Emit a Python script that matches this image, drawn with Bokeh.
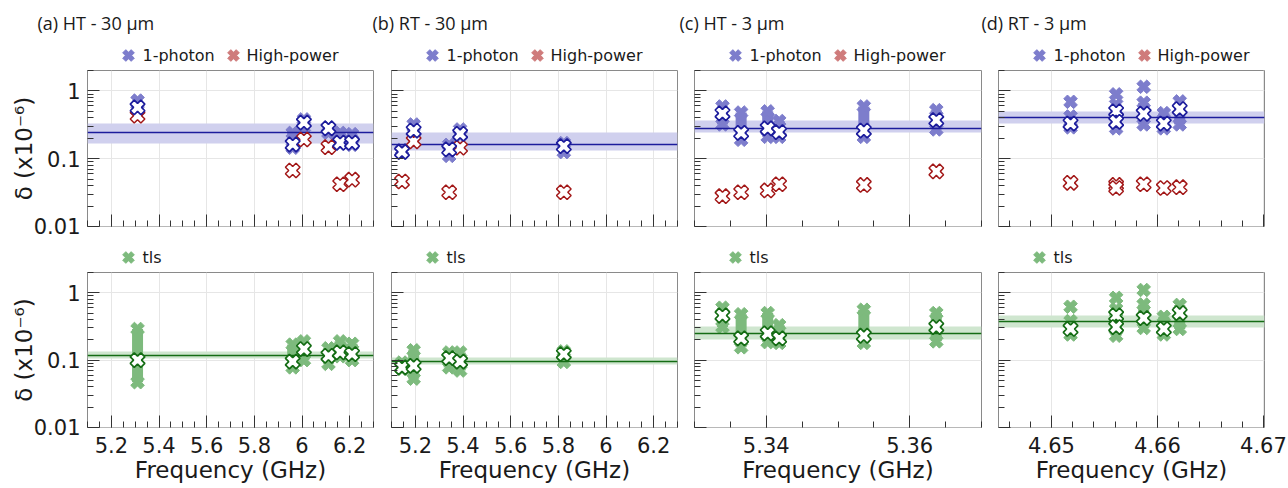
import numpy as np
from bokeh.plotting import figure
from bokeh.models import Range1d, FixedTicker, CustomJSTickFormatter, CustomLabelingPolicy
from bokeh.core.properties import value
from bokeh.layouts import column, row
from bokeh.embed import file_html
from bokeh.resources import INLINE

# ---------------- data ----------------
titles = ["(a) HT - 30 µm", "(b) RT - 30 µm", "(c) HT - 3 µm", "(d) RT - 3 µm"]
legend_top = ["1-photon", "High-power"]
legend_bottom = ["tls"]
y_ticks = [0.01, 0.1, 1]
x_ticks_a = [5.2, 5.4, 5.6, 5.8, 6.0, 6.2]
x_ticks_b = [5.2, 5.4, 5.6, 5.8, 6.0, 6.2]
x_ticks_c = [5.34, 5.36]
x_ticks_d = [4.65, 4.66, 4.67]

# (a) HT - 30 um
a_freq = [5.31, 5.961, 6.008, 6.111, 6.160, 6.210]
a_1ph_med = [0.57, 0.162, 0.34, 0.28, 0.172, 0.172]
a_1ph_lo = [0.52, 0.145, 0.29, 0.24, 0.165, 0.16]
a_1ph_hi = [0.72, 0.24, 0.38, 0.29, 0.24, 0.23]
a_hp = [0.43, 0.067, 0.192, 0.148, 0.042, 0.049]
a_1ph_mean = 0.24
a_1ph_band = [0.17, 0.33]
a_tls_med = [0.10, 0.095, 0.146, 0.116, 0.13, 0.123]
a_tls_lo = [0.047, 0.078, 0.10, 0.088, 0.114, 0.10]
a_tls_hi = [0.29, 0.17, 0.19, 0.15, 0.19, 0.175]
a_tls_mean = 0.118
a_tls_band = [0.107, 0.133]

# (b) RT - 30 um
b_freq = [5.144, 5.193, 5.342, 5.388, 5.823]
b_1ph_med = [0.126, 0.26, 0.137, 0.233, 0.153]
b_1ph_lo = [0.122, 0.24, 0.11, 0.22, 0.125]
b_1ph_hi = [0.135, 0.32, 0.16, 0.27, 0.17]
b_hp = [0.046, 0.18, 0.032, 0.145, 0.032]
b_1ph_mean = 0.162
b_1ph_band = [0.13, 0.24]
b_tls_med = [0.078, 0.082, 0.107, 0.095, 0.123]
b_tls_lo = [0.074, 0.053, 0.078, 0.07, 0.094]
b_tls_hi = [0.092, 0.14, 0.13, 0.13, 0.135]
b_tls_mean = 0.095
b_tls_band = [0.085, 0.11]

# (c) HT - 3 um
c_freq = [5.3339, 5.3365, 5.3402, 5.3418, 5.3536, 5.3637]
c_1ph_med = [0.467, 0.24, 0.28, 0.247, 0.26, 0.37]
c_1ph_lo = [0.32, 0.19, 0.21, 0.21, 0.21, 0.27]
c_1ph_hi = [0.59, 0.48, 0.50, 0.36, 0.59, 0.52]
c_hp = [0.028, 0.032, 0.034, 0.042, 0.041, 0.065]
c_1ph_mean = 0.28
c_1ph_band = [0.24, 0.36]
c_tls_med = [0.46, 0.21, 0.25, 0.21, 0.23, 0.31]
c_tls_lo = [0.31, 0.155, 0.185, 0.18, 0.18, 0.19]
c_tls_hi = [0.60, 0.48, 0.50, 0.33, 0.56, 0.50]
c_tls_mean = 0.25
c_tls_band = [0.20, 0.32]

# (d) RT - 3 um
d_freq = [4.6518, 4.6561, 4.6561, 4.6587, 4.6606, 4.6621]
d_1ph_med = [0.33, 0.50, 0.35, 0.46, 0.33, 0.54]
d_1ph_lo = [0.29, 0.36, 0.28, 0.32, 0.28, 0.32]
d_1ph_hi = [0.42, 0.63, 0.42, 0.67, 0.47, 0.70]
d_hp = [0.044, 0.041, 0.037, 0.042, 0.037, 0.038]
d_1ph_out_freq = [4.6518, 4.6561, 4.6587]
d_1ph_out = [0.69, 0.89, 1.15]
d_1ph_mean = 0.40
d_1ph_band = [0.33, 0.49]
d_tls_med = [0.29, 0.46, 0.31, 0.42, 0.29, 0.50]
d_tls_lo = [0.24, 0.32, 0.23, 0.30, 0.24, 0.29]
d_tls_hi = [0.38, 0.57, 0.42, 0.67, 0.44, 0.66]
d_tls_out_freq = [4.6518, 4.6561, 4.6587]
d_tls_out = [0.62, 0.84, 1.10]
d_tls_mean = 0.37
d_tls_band = [0.30, 0.46]

# ---------------- style ----------------
BLUE_L, BLUE_D, BLUE_BAND = "#7d7dcc", "#1c1c9c", "#d0d0ee"
RED_L, RED_D = "#cf7b7b", "#a31818"
GREEN_L, GREEN_D, GREEN_BAND = "#7dba7d", "#146c14", "#cfe6cf"
GRID = "#e6e6e6"
TICK = "#333333"
TXT = "#1a1a1a"
FONT = "DejaVu Sans"
TFONT = "Open Sans"
ANG = np.pi / 4
W_TOTAL = 1288

# column layout (canvas widths and borders)
COL_W = [374, 305, 303, 306]
COL_L = [87, 17, 15, 16]
COL_R = [1, 2, 1, 24]
TITLE_X = [37, 372, 679, 981]
X_RANGES = [(5.1, 6.3), (5.1, 6.3), (5.33, 5.37), (4.645, 4.6701)]
X_TICKS = [x_ticks_a, x_ticks_b, x_ticks_c, x_ticks_d]
X_MINOR = [np.arange(5.1, 6.31, 0.05), np.arange(5.1, 6.31, 0.05),
           np.arange(5.33, 5.3701, 0.005), np.arange(4.646, 4.6701, 0.002)]
Y_MINOR = [m * d for d in (0.01, 0.1) for m in range(2, 10)] + [2.0]

xfmt = "return Number(tick.toFixed(4)).toString();"
NO_LABELS = "for (const i of [...indices]) { indices.unset(i) }\nreturn indices"

HEAD1_H, TOP_H, HEAD2_H, BOT_H = 64, 176, 26, 222


def make_fig(ci, top):
    H = TOP_H if top else BOT_H
    fig = figure(width=COL_W[ci], height=H,
                 x_range=Range1d(*X_RANGES[ci]), y_range=Range1d(0.00999, 2.0),
                 y_axis_type="log", output_backend="svg", toolbar_location=None, tools="",
                 min_border_left=COL_L[ci], min_border_right=COL_R[ci],
                 min_border_top=6, min_border_bottom=14 if top else 61)
    fig.outline_line_color = "#8a8a8a"
    fig.outline_line_width = 1
    fig.background_fill_color = "white"
    fig.border_fill_color = "white"
    fig.xaxis.ticker = FixedTicker(ticks=X_TICKS[ci], minor_ticks=list(X_MINOR[ci]))
    fig.yaxis.ticker = FixedTicker(ticks=y_ticks, minor_ticks=Y_MINOR)
    fig.xaxis.formatter = CustomJSTickFormatter(code=xfmt)
    fig.yaxis.formatter = CustomJSTickFormatter(code="return Number(tick.toPrecision(3)).toString();")
    fig.xgrid.grid_line_color = GRID
    fig.ygrid.grid_line_color = GRID
    for ax in (fig.xaxis[0], fig.yaxis[0]):
        ax.axis_line_color = None
        ax.major_tick_in = 12
        ax.major_tick_out = 0
        ax.minor_tick_in = 6
        ax.minor_tick_out = 0
        ax.major_tick_line_color = TICK
        ax.minor_tick_line_color = TICK
        ax.major_label_text_font = FONT
        ax.major_label_text_font_size = "21px"
        ax.major_label_text_color = TXT
        ax.axis_label_text_font = FONT
        ax.axis_label_text_font_size = "23px"
        ax.axis_label_text_font_style = "normal"
        ax.axis_label_text_color = TXT
    xa, ya = fig.xaxis[0], fig.yaxis[0]
    if top:
        xa.major_label_text_font_size = "0px"
        xa.major_label_standoff = 0
        xa.major_label_policy = CustomLabelingPolicy(code=NO_LABELS)
    else:
        xa.major_label_standoff = 9
        xa.axis_label = "Frequency (GHz)"
        xa.axis_label_standoff = 1
    if ci == 0:
        ya.major_label_standoff = 7
        ya.axis_label = "δ (x10⁻⁶)"
        ya.axis_label_standoff = -6
    else:
        ya.major_label_text_font_size = "0px"
        ya.major_label_standoff = 0
        ya.major_label_policy = CustomLabelingPolicy(code=NO_LABELS)
    return fig


def draw_series(fig, freq, med, lo, hi, mean, band, light, dark, band_col,
                hp=None, out_f=None, out_v=None):
    fig.hstrip(y0=[band[0]], y1=[band[1]], fill_color=band_col, fill_alpha=1.0, line_color=None)
    fig.segment(x0=freq, y0=lo, x1=freq, y1=hi, line_color=light, line_width=11)
    fig.scatter(freq + freq, lo + hi, marker="plus", angle=ANG, size=14,
                fill_color=light, line_color=light)
    if out_f is not None:
        fig.scatter(out_f, out_v, marker="plus", angle=ANG, size=14,
                    fill_color=light, line_color=light)
    fig.hspan(y=[mean], line_color=dark, line_width=1.6)
    if hp is not None:
        fig.scatter(freq, hp, marker="plus", angle=ANG, size=15,
                    fill_color="white", line_color=RED_D, line_width=1.5)
    fig.scatter(freq, med, marker="plus", angle=ANG, size=15,
                fill_color="white", line_color=dark, line_width=1.7)


def header(h, y0):
    # text strip: data units equal page pixels (y pointing down)
    fig = figure(width=W_TOTAL, height=h, x_range=Range1d(0, W_TOTAL), y_range=Range1d(y0 + h, y0),
                 x_axis_location=None, y_axis_location=None, output_backend="svg",
                 toolbar_location=None, tools="", min_border=0)
    fig.outline_line_color = None
    fig.xgrid.visible = False
    fig.ygrid.visible = False
    return fig


panels = [
    (a_freq, a_1ph_med, a_1ph_lo, a_1ph_hi, a_1ph_mean, a_1ph_band, a_hp, None, None,
     a_tls_med, a_tls_lo, a_tls_hi, a_tls_mean, a_tls_band, None, None),
    (b_freq, b_1ph_med, b_1ph_lo, b_1ph_hi, b_1ph_mean, b_1ph_band, b_hp, None, None,
     b_tls_med, b_tls_lo, b_tls_hi, b_tls_mean, b_tls_band, None, None),
    (c_freq, c_1ph_med, c_1ph_lo, c_1ph_hi, c_1ph_mean, c_1ph_band, c_hp, None, None,
     c_tls_med, c_tls_lo, c_tls_hi, c_tls_mean, c_tls_band, None, None),
    (d_freq, d_1ph_med, d_1ph_lo, d_1ph_hi, d_1ph_mean, d_1ph_band, d_hp, d_1ph_out_freq, d_1ph_out,
     d_tls_med, d_tls_lo, d_tls_hi, d_tls_mean, d_tls_band, d_tls_out_freq, d_tls_out),
]

top_figs, bot_figs = [], []
for ci, pd in enumerate(panels):
    (f, m1, l1, h1_, mn1, bd1, hp, of1, ov1, m2, l2, h2_, mn2, bd2, of2, ov2) = pd
    t = make_fig(ci, True)
    draw_series(t, list(f), m1, l1, h1_, mn1, bd1, BLUE_L, BLUE_D, BLUE_BAND, hp=hp, out_f=of1, out_v=ov1)
    top_figs.append(t)
    b = make_fig(ci, False)
    draw_series(b, list(f), m2, l2, h2_, mn2, bd2, GREEN_L, GREEN_D, GREEN_BAND, out_f=of2, out_v=ov2)
    bot_figs.append(b)

# frame left edges on the page
frame_left = list(np.cumsum([0] + COL_W[:-1]) + np.array(COL_L))

# header above the top row: titles and legends
h1 = header(HEAD1_H, 0)
h1.text(x=TITLE_X, y=[22] * 4, text=titles, text_font=value(TFONT), text_font_size="18px",
        text_color=TXT, text_baseline="middle", text_align="left")
mx = [float(fl) + 41 for fl in frame_left]
h1.scatter(mx, [55] * 4, marker="plus", angle=ANG, size=12, fill_color=BLUE_L, line_color=BLUE_L)
h1.scatter([x + 105 for x in mx], [55] * 4, marker="plus", angle=ANG, size=12,
           fill_color=RED_L, line_color=RED_L)
h1.text(x=[x + 14 for x in mx], y=[55] * 4, text=[legend_top[0]] * 4, text_font=value(FONT),
        text_font_size="16px", text_color=TXT, text_baseline="middle")
h1.text(x=[x + 118 for x in mx], y=[55] * 4, text=[legend_top[1]] * 4, text_font=value(FONT),
        text_font_size="16px", text_color=TXT, text_baseline="middle")

# header between the rows: tls legends
y2 = HEAD1_H + TOP_H
h2 = header(HEAD2_H, y2)
h2.scatter(mx, [257] * 4, marker="plus", angle=ANG, size=12, fill_color=GREEN_L, line_color=GREEN_L)
h2.text(x=[x + 14 for x in mx], y=[257] * 4, text=legend_bottom * 4, text_font=value(FONT),
        text_font_size="16px", text_color=TXT, text_baseline="middle")

layout = column(h1, row(*top_figs), h2, row(*bot_figs))
open("out.html", "w").write(file_html(layout, INLINE))
